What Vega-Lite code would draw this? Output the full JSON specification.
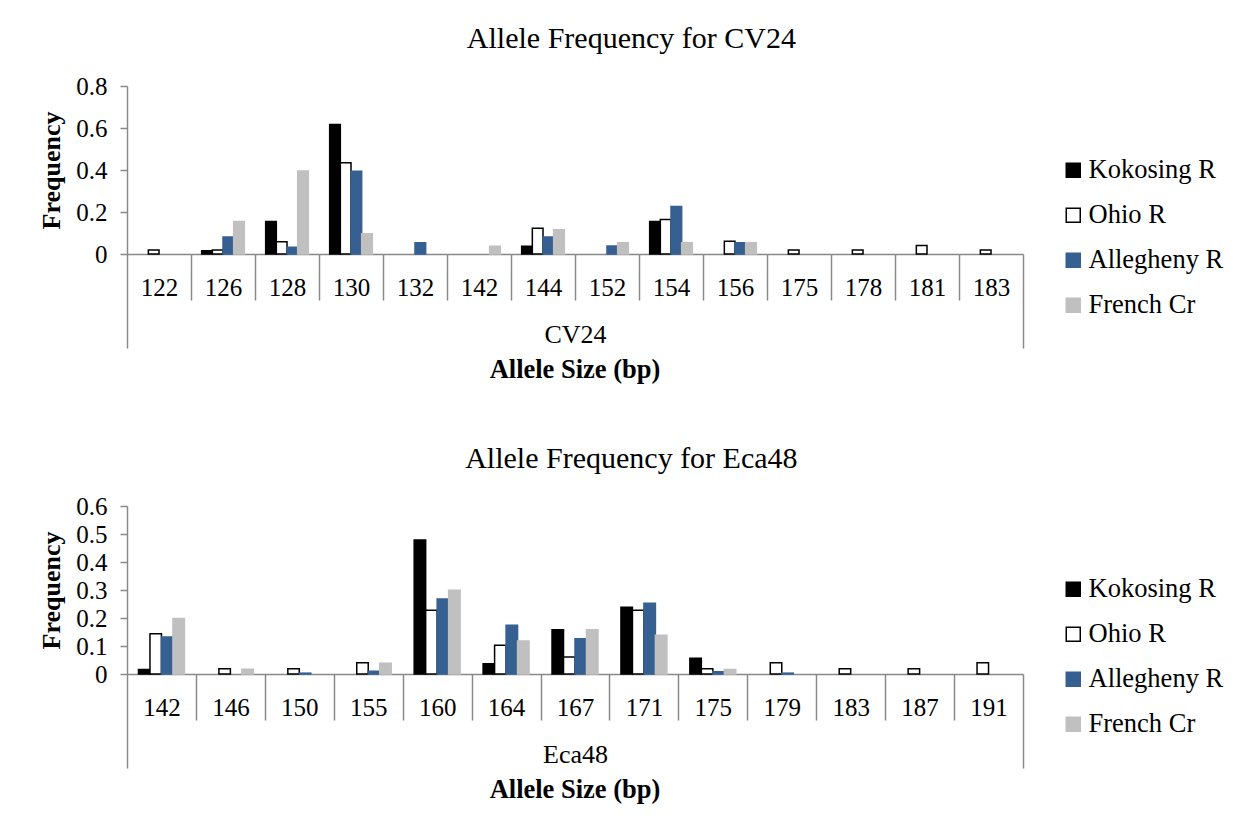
{
  "$schema": "https://vega.github.io/schema/vega-lite/v6.json",
  "padding": {"left": 38, "top": 24, "right": 5, "bottom": 5},
  "background": "white",
  "spacing": 60,
  "config": {
    "font": "Liberation Serif",
    "view": {"stroke": null},
    "axis": {
      "domainColor": "#898989", "domainWidth": 1.5,
      "tickColor": "#898989", "tickWidth": 1.5,
      "labelFont": "Liberation Serif", "labelFontSize": 25, "labelColor": "#000000",
      "titleFont": "Liberation Serif", "titleFontSize": 26, "titleColor": "#000000",
      "grid": false
    },
    "axisY": {"tickSize": 7, "labelPadding": 13, "titleFontWeight": "bold", "titlePadding": 11},
    "title": {"font": "Liberation Serif", "color": "#000000"},
    "legend": {"labelFont": "Liberation Serif", "labelFontSize": 26.5, "labelColor": "#000000"}
  },
  "resolve": {
    "scale": {"fill": "independent", "stroke": "independent", "xOffset": "independent"},
    "legend": {"fill": "independent", "stroke": "independent"}
  },
  "datasets": {
    "cv24": [
      {"size": 122, "site": "Ohio R", "freq": 0.019},
      {"size": 126, "site": "Kokosing R", "freq": 0.015},
      {"size": 126, "site": "Ohio R", "freq": 0.019},
      {"size": 126, "site": "Allegheny R", "freq": 0.081},
      {"size": 126, "site": "French Cr", "freq": 0.155},
      {"size": 128, "site": "Kokosing R", "freq": 0.155},
      {"size": 128, "site": "Ohio R", "freq": 0.058},
      {"size": 128, "site": "Allegheny R", "freq": 0.032},
      {"size": 128, "site": "French Cr", "freq": 0.395},
      {"size": 130, "site": "Kokosing R", "freq": 0.617},
      {"size": 130, "site": "Ohio R", "freq": 0.435},
      {"size": 130, "site": "Allegheny R", "freq": 0.394},
      {"size": 130, "site": "French Cr", "freq": 0.096},
      {"size": 132, "site": "Allegheny R", "freq": 0.054},
      {"size": 142, "site": "French Cr", "freq": 0.037},
      {"size": 144, "site": "Kokosing R", "freq": 0.037},
      {"size": 144, "site": "Ohio R", "freq": 0.123},
      {"size": 144, "site": "Allegheny R", "freq": 0.081},
      {"size": 144, "site": "French Cr", "freq": 0.115},
      {"size": 152, "site": "Allegheny R", "freq": 0.038},
      {"size": 152, "site": "French Cr", "freq": 0.054},
      {"size": 154, "site": "Kokosing R", "freq": 0.155},
      {"size": 154, "site": "Ohio R", "freq": 0.164},
      {"size": 154, "site": "Allegheny R", "freq": 0.226},
      {"size": 154, "site": "French Cr", "freq": 0.054},
      {"size": 156, "site": "Ohio R", "freq": 0.061},
      {"size": 156, "site": "Allegheny R", "freq": 0.054},
      {"size": 156, "site": "French Cr", "freq": 0.054},
      {"size": 175, "site": "Ohio R", "freq": 0.019},
      {"size": 178, "site": "Ohio R", "freq": 0.019},
      {"size": 181, "site": "Ohio R", "freq": 0.04},
      {"size": 183, "site": "Ohio R", "freq": 0.019}
    ],
    "eca48": [
      {"size": 142, "site": "Kokosing R", "freq": 0.016},
      {"size": 142, "site": "Ohio R", "freq": 0.144},
      {"size": 142, "site": "Allegheny R", "freq": 0.132},
      {"size": 142, "site": "French Cr", "freq": 0.198},
      {"size": 146, "site": "Ohio R", "freq": 0.019},
      {"size": 146, "site": "French Cr", "freq": 0.017},
      {"size": 150, "site": "Ohio R", "freq": 0.019},
      {"size": 150, "site": "Allegheny R", "freq": 0.003},
      {"size": 155, "site": "Ohio R", "freq": 0.04},
      {"size": 155, "site": "Allegheny R", "freq": 0.01},
      {"size": 155, "site": "French Cr", "freq": 0.038},
      {"size": 160, "site": "Kokosing R", "freq": 0.479},
      {"size": 160, "site": "Ohio R", "freq": 0.228},
      {"size": 160, "site": "Allegheny R", "freq": 0.268},
      {"size": 160, "site": "French Cr", "freq": 0.299},
      {"size": 164, "site": "Kokosing R", "freq": 0.037},
      {"size": 164, "site": "Ohio R", "freq": 0.103},
      {"size": 164, "site": "Allegheny R", "freq": 0.174},
      {"size": 164, "site": "French Cr", "freq": 0.118},
      {"size": 167, "site": "Kokosing R", "freq": 0.158},
      {"size": 167, "site": "Ohio R", "freq": 0.061},
      {"size": 167, "site": "Allegheny R", "freq": 0.126},
      {"size": 167, "site": "French Cr", "freq": 0.158},
      {"size": 171, "site": "Kokosing R", "freq": 0.238},
      {"size": 171, "site": "Ohio R", "freq": 0.228},
      {"size": 171, "site": "Allegheny R", "freq": 0.253},
      {"size": 171, "site": "French Cr", "freq": 0.138},
      {"size": 175, "site": "Kokosing R", "freq": 0.056},
      {"size": 175, "site": "Ohio R", "freq": 0.019},
      {"size": 175, "site": "Allegheny R", "freq": 0.008},
      {"size": 175, "site": "French Cr", "freq": 0.016},
      {"size": 179, "site": "Ohio R", "freq": 0.04},
      {"size": 179, "site": "Allegheny R", "freq": 0.003},
      {"size": 183, "site": "Ohio R", "freq": 0.019},
      {"size": 187, "site": "Ohio R", "freq": 0.019},
      {"size": 191, "site": "Ohio R", "freq": 0.04}
    ]
  },
  "vconcat": [
    {
      "title": {"text": "Allele Frequency for CV24", "frame": "bounds", "anchor": "middle", "fontSize": 30, "fontWeight": "normal", "offset": 20},
      "vconcat": [
        {
          "title": {"text": "Allele Size (bp)", "orient": "bottom", "anchor": "middle", "frame": "group", "fontSize": 26.5, "fontWeight": "bold", "offset": 8},
          "width": 896,
          "height": 168,
          "data": {"name": "cv24"},
          "mark": {"type": "bar", "strokeWidth": 1.5},
          "encoding": {
            "x": {
              "field": "size", "type": "nominal",
              "scale": {"domain": [122, 126, 128, 130, 132, 142, 144, 152, 154, 156, 175, 178, 181, 183], "paddingInner": 0, "paddingOuter": 0},
              "axis": {
                "title": "CV24", "titleFontWeight": "normal", "titleY": 88, "titleBaseline": "alphabetic",
                "labelAngle": 0, "labelBaseline": "alphabetic", "tickBand": "extent",
                "tickSize": {"condition": {"test": "datum.value == 183 || datum.value == null", "value": 94}, "value": 46},
                "labelPadding": {"condition": {"test": "datum.value == 183", "value": -53}, "value": -5}
              }
            },
            "xOffset": {
              "field": "site", "type": "nominal",
              "scale": {"domain": ["Kokosing R", "Ohio R", "Allegheny R", "French Cr"], "paddingInner": 0, "paddingOuter": 1}
            },
            "y": {
              "field": "freq", "type": "quantitative",
              "scale": {"domain": [0, 0.8], "nice": false},
              "axis": {"values": [0, 0.2, 0.4, 0.6, 0.8], "format": "~g", "title": "Frequency"}
            },
            "fill": {
              "field": "site", "type": "nominal",
              "scale": {"domain": ["Kokosing R", "Ohio R", "Allegheny R", "French Cr"], "range": ["#000000", "#ffffff", "#376092", "#c0c0c0"]},
              "legend": {"title": null, "orient": "none", "direction": "vertical", "legendX": 933, "legendY": 71, "symbolType": "square", "symbolSize": 196, "rowPadding": 18, "labelOffset": 2, "symbolStrokeWidth": 1.5, "padding": 0}
            },
            "stroke": {
              "field": "site", "type": "nominal",
              "scale": {"domain": ["Kokosing R", "Ohio R", "Allegheny R", "French Cr"], "range": ["#000000", "#000000", "#376092", "#c0c0c0"]},
              "legend": {"title": null, "orient": "none", "direction": "vertical", "legendX": 933, "legendY": 71, "symbolType": "square", "symbolSize": 196, "rowPadding": 18, "labelOffset": 2, "symbolStrokeWidth": 1.5, "padding": 0}
            }
          }
        }
      ]
    },
    {
      "title": {"text": "Allele Frequency for Eca48", "frame": "bounds", "anchor": "middle", "fontSize": 30, "fontWeight": "normal", "offset": 20},
      "vconcat": [
        {
          "title": {"text": "Allele Size (bp)", "orient": "bottom", "anchor": "middle", "frame": "group", "fontSize": 26.5, "fontWeight": "bold", "offset": 8},
          "width": 896,
          "height": 168,
          "data": {"name": "eca48"},
          "mark": {"type": "bar", "strokeWidth": 1.5},
          "encoding": {
            "x": {
              "field": "size", "type": "nominal",
              "scale": {"domain": [142, 146, 150, 155, 160, 164, 167, 171, 175, 179, 183, 187, 191], "paddingInner": 0, "paddingOuter": 0},
              "axis": {
                "title": "Eca48", "titleFontWeight": "normal", "titleY": 88, "titleBaseline": "alphabetic",
                "labelAngle": 0, "labelBaseline": "alphabetic", "tickBand": "extent",
                "tickSize": {"condition": {"test": "datum.value == 191 || datum.value == null", "value": 94}, "value": 46},
                "labelPadding": {"condition": {"test": "datum.value == 191", "value": -53}, "value": -5}
              }
            },
            "xOffset": {
              "field": "site", "type": "nominal",
              "scale": {"domain": ["Kokosing R", "Ohio R", "Allegheny R", "French Cr"], "paddingInner": 0, "paddingOuter": 1}
            },
            "y": {
              "field": "freq", "type": "quantitative",
              "scale": {"domain": [0, 0.6], "nice": false},
              "axis": {"values": [0, 0.1, 0.2, 0.3, 0.4, 0.5, 0.6], "format": "~g", "title": "Frequency"}
            },
            "fill": {
              "field": "site", "type": "nominal",
              "scale": {"domain": ["Kokosing R", "Ohio R", "Allegheny R", "French Cr"], "range": ["#000000", "#ffffff", "#376092", "#c0c0c0"]},
              "legend": {"title": null, "orient": "none", "direction": "vertical", "legendX": 933, "legendY": 70, "symbolType": "square", "symbolSize": 196, "rowPadding": 18, "labelOffset": 2, "symbolStrokeWidth": 1.5, "padding": 0}
            },
            "stroke": {
              "field": "site", "type": "nominal",
              "scale": {"domain": ["Kokosing R", "Ohio R", "Allegheny R", "French Cr"], "range": ["#000000", "#000000", "#376092", "#c0c0c0"]},
              "legend": {"title": null, "orient": "none", "direction": "vertical", "legendX": 933, "legendY": 70, "symbolType": "square", "symbolSize": 196, "rowPadding": 18, "labelOffset": 2, "symbolStrokeWidth": 1.5, "padding": 0}
            }
          }
        }
      ]
    }
  ]
}
